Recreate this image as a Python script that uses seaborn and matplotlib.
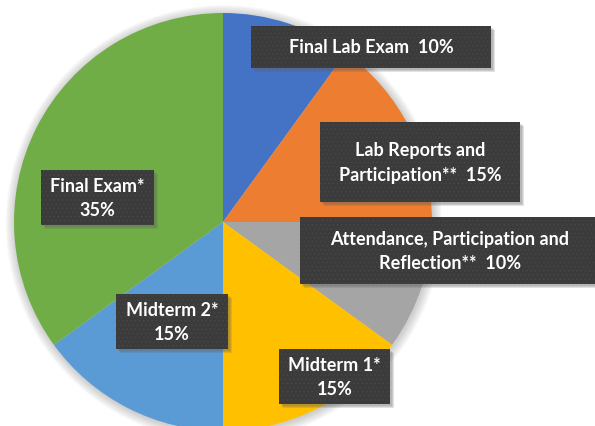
import matplotlib
matplotlib.use('Agg')
import matplotlib.pyplot as plt
import seaborn as sns
from matplotlib.patches import Rectangle, Circle

# grade weights, clockwise from the top
names = ['Final Lab Exam', 'Lab Reports and\nParticipation**',
         'Attendance, Participation and\nReflection**',
         'Midterm 1*', 'Midterm 2*', 'Final Exam*']
weights = [10, 15, 10, 15, 15, 35]
seps = ['  ', '  ', '  ', '\n', '\n', '\n']
colors = sns.color_palette(['#4472C4', '#ED7D31', '#A5A5A5',
                            '#FFC000', '#5B9BD5', '#70AD47'])

# label boxes in pixels (left, top, right, bottom)
boxes = [(251, 27, 491, 69), (320, 123, 520, 203), (300, 218, 600, 285),
         (279, 350, 390, 405), (116, 295, 228, 350), (41, 171, 154, 226)]

sns.set_style('white')
plt.rcParams['font.family'] = ['Lato', 'DejaVu Sans']
plt.rcParams['hatch.linewidth'] = 0.5

W, H = 595, 427
cx, cy, r = 223, 223, 209
fig = plt.figure(figsize=(W / 100, H / 100), dpi=100)
ax = fig.add_axes([0, 0, 1, 1])


def px(x, y):
    # pixel (top-left origin) to data units
    return (x - cx) / r, (cy - y) / r


# soft shadow round the pie
for k in range(12):
    ax.add_patch(Circle((0.004, -0.006), 1 + 0.004 * k, color='#808080',
                        alpha=0.035, lw=0, zorder=0))

ax.pie(weights, colors=colors, startangle=90, counterclock=False,
       radius=1, wedgeprops=dict(linewidth=0))

for name, w, s, (x0, y0, x1, y1) in zip(names, weights, seps, boxes):
    lx, ly = px(x0, y1)
    bw, bh = (x1 - x0) / r, (y1 - y0) / r
    # drop shadow
    for k in range(3):
        ax.add_patch(Rectangle((lx + (2 + k) / r, ly - (2 + k) / r), bw, bh,
                               color='#606060', alpha=0.18, lw=0, zorder=3))
    ax.add_patch(Rectangle((lx, ly), bw, bh, facecolor='#3b3b3b',
                           edgecolor='#474747', hatch='....', lw=0, zorder=4))
    tx, ty = px((x0 + x1) / 2, (y0 + y1) / 2)
    ax.text(tx, ty, f'{name}{s}{w}%', color='white', fontsize=13,
            fontweight='bold', ha='center', va='center', linespacing=1.55,
            zorder=5)

ax.set_xlim(-cx / r, (W - cx) / r)
ax.set_ylim(-(H - cy) / r, cy / r)
ax.set_aspect('equal')
ax.axis('off')
fig.savefig('out.png', dpi=100)
